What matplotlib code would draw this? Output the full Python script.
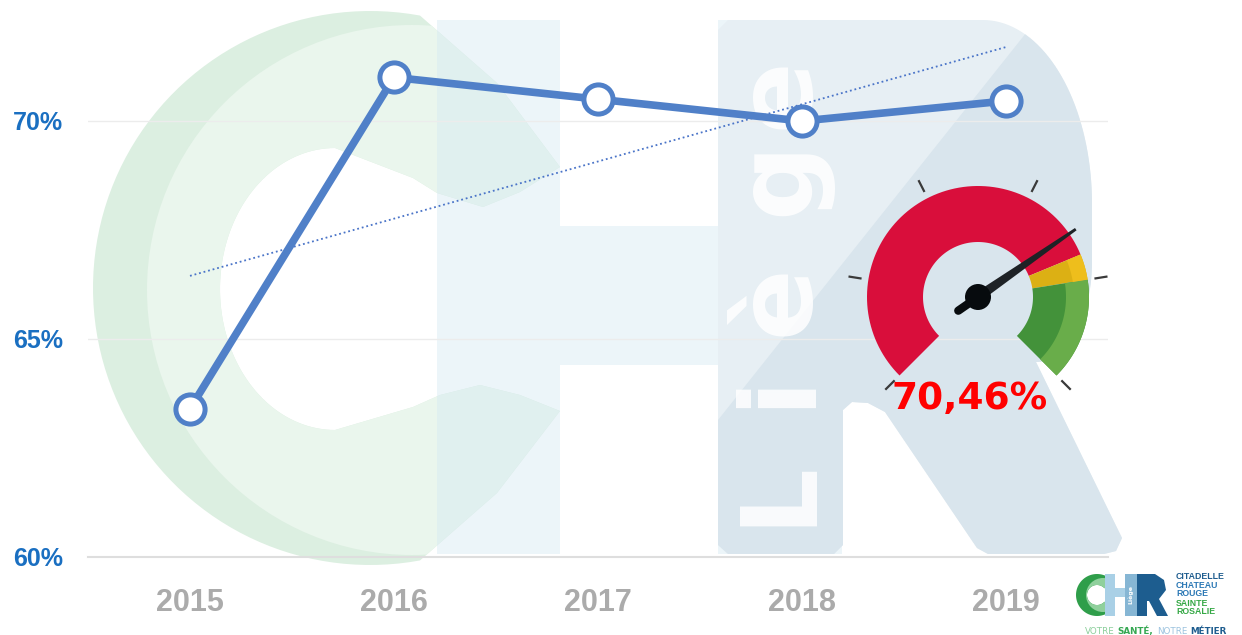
import numpy as np
import matplotlib.pyplot as plt
from matplotlib.patches import Polygon, Circle, Rectangle

# data
years = ['2015', '2016', '2017', '2018', '2019']
rates = [63.4, 71.0, 70.5, 70.0, 70.46]
y_ticks = [60, 65, 70]

gauge_value = 70.46
gauge_bands = [(0, 75, '#d90e3b'), (75, 80, '#dcb014'), (80, 100, '#43923a')]
gauge_ticks = [0, 20, 40, 60, 80, 100]

W, H = 1242, 635
LINE = '#5080c8'


def arc(cx, cy, r, a0, a1, n=90, ry=None):
    # points on a circle/ellipse, math angles, screen coords (y down)
    ry = r if ry is None else ry
    t = np.radians(np.linspace(a0, a1, n))
    return np.column_stack([cx + r * np.cos(t), cy - ry * np.sin(t)])


def sector(cx, cy, r0, r1, a0, a1):
    return np.vstack([arc(cx, cy, r1, a0, a1), arc(cx, cy, r0, a1, a0)])


def px_axes(z):
    a = fig.add_axes([0, 0, 1, 1], zorder=z)
    a.set_xlim(0, W)
    a.set_ylim(H, 0)
    a.axis('off')
    a.patch.set_visible(False)
    return a


fig = plt.figure(figsize=(W / 100, H / 100), dpi=100)
fig.patch.set_facecolor('white')

# ---- watermark logo behind the chart ----
bg = px_axes(0)

hole = arc(335, 289, 115, 270, 90, 80, ry=141)
c_pts = np.vstack([
    arc(370, 288, 277, 79.6, 280.4),
    [(497, 493), (560, 411), (520, 395), (480, 385), (440, 395), (413, 407)],
    hole,
    [(413, 178), (437, 193), (483, 207), (520, 192), (560, 167), (497, 83)],
])
c_patch = Polygon(c_pts, closed=True, fc='#dcefe1', ec='none')
bg.add_patch(c_patch)
light = Circle((412, 290), 265, fc='#eaf6ed', ec='none')
bg.add_patch(light)
light.set_clip_path(c_patch)

h_pts = [(437, 20), (560, 20), (560, 226), (718, 226), (718, 20), (842, 20),
         (842, 554), (718, 554), (718, 365), (560, 365), (560, 554), (437, 554)]
bg.add_patch(Polygon(h_pts, closed=True, fc='#d3e8f2', ec='none', alpha=0.42))

r_pts = np.vstack([
    [(728, 20)],
    arc(983, 204, 109, 90, 0, 40, ry=184),
    arc(1036, 262, 56, 0, -90, 30, ry=100),
    [(1122, 538), (1116, 551), (1104, 554), (988, 554), (977, 548), (885, 412),
     (868, 403), (852, 402), (843, 410), (843, 545), (834, 554),
     (728, 554), (718, 545), (718, 30)],
])
r_patch = Polygon(r_pts, closed=True, fc='#e7eff4', ec='none')
bg.add_patch(r_patch)
dark = Polygon([(718, 420), (1030, 28), (1250, 28), (1250, 635), (718, 635)],
               closed=True, fc='#d9e5ed', ec='none')
bg.add_patch(dark)
dark.set_clip_path(r_patch)

for ch, yc in zip('Liège', [492, 390, 300, 178, 93]):
    bg.text(808, yc, ch, rotation=90, rotation_mode='anchor', ha='center',
            va='baseline', fontsize=76, fontweight='bold', color='white',
            alpha=0.85, family='DejaVu Sans')

# ---- line chart ----
ax = fig.add_axes([88 / W, (H - 557) / H, 1020 / W, (557 - 20) / H], zorder=1)
ax.patch.set_visible(False)
x = np.arange(len(years))
ax.set_xlim(-0.5, len(years) - 0.5)
ax.set_ylim(60, 60 + (557 - 20) / 43.6)

for v in y_ticks[1:]:
    ax.axhline(v, color='#ececec', lw=1, zorder=0)
for s in ['top', 'right', 'left']:
    ax.spines[s].set_visible(False)
ax.spines['bottom'].set_color('#dedede')
ax.spines['bottom'].set_linewidth(1.5)

coef = np.polyfit(x, rates, 1)
ax.plot([x[0], x[-1]], np.polyval(coef, [x[0], x[-1]]), ls=(0, (1, 1.6)),
        lw=1.3, color='#4a74c8', zorder=2)
ax.plot(x, rates, color=LINE, lw=5.5, marker='o', ms=21, mfc='white',
        mec=LINE, mew=3.6, zorder=3, solid_joinstyle='round')

ax.set_xticks(x)
ax.set_xticklabels(years, fontsize=22, fontweight='bold', color='#ababab',
                   family='Liberation Sans')
ax.set_yticks(y_ticks)
ax.set_yticklabels([f'{v}%' for v in y_ticks], fontsize=18, fontweight='bold',
                   color='#1a6fc1', family='Liberation Sans')
ax.tick_params(axis='x', length=0, pad=22)
ax.tick_params(axis='y', length=0, pad=18)

# ---- gauge ----
top = px_axes(2)
cx, cy, r_in, r_out = 978, 297, 55, 111


def ang(v):
    return 225 - v / 100 * 270


for lo, hi, col in gauge_bands:
    top.add_patch(Polygon(sector(cx, cy, r_in, r_out, ang(lo), ang(hi)),
                          closed=True, fc=col, ec='none'))
lo, hi = gauge_bands[-1][:2]
top.add_patch(Polygon(sector(cx, cy, 88, r_out, ang(lo), ang(hi)),
                      closed=True, fc='#69ad4a', ec='none'))
lo, hi = gauge_bands[1][:2]
top.add_patch(Polygon(sector(cx, cy, 96, r_out, ang(lo), ang(hi)),
                      closed=True, fc='#eebe1c', ec='none'))

for v in gauge_ticks:
    p = arc(cx, cy, 119, ang(v), ang(v), 1)[0]
    q = arc(cx, cy, 130, ang(v), ang(v), 1)[0]
    top.plot([p[0], q[0]], [p[1], q[1]], color='#3a3a3a', lw=1.6)

a = np.radians(ang(gauge_value))
u = np.array([np.cos(a), -np.sin(a)])
n = np.array([np.sin(a), np.cos(a)])
c = np.array([cx, cy])
top.add_patch(Polygon([c + n * 5, c + u * 119 + n * 1.4, c + u * 119 - n * 1.4,
                       c - n * 5], closed=True, fc='#1e2226', ec='none'))
tail = c - u * 24
top.plot([cx, tail[0]], [cy, tail[1]], color='#070b0e', lw=6,
         solid_capstyle='round')
top.add_patch(Circle((cx, cy), 13, fc='#070b0e', ec='none'))
top.text(970, 399, f'{gauge_value:.2f}'.replace('.', ',') + '%', ha='center',
         va='center', fontsize=27, fontweight='bold', color='#ff0000',
         family='DejaVu Sans')

# ---- small logo bottom right ----
ring = Polygon(sector(1097, 595, 10, 21, 42, 318), closed=True,
               fc='#2f9e4a', ec='none')
top.add_patch(ring)
lg = Circle((1103, 595), 17, fc='#8fd09c', ec='none')
top.add_patch(lg)
lg.set_clip_path(ring)
top.add_patch(Rectangle((1105, 574), 10, 42, fc='#a9d0e6', ec='none'))
top.add_patch(Rectangle((1115, 588), 10, 9, fc='#a9d0e6', ec='none'))
top.add_patch(Rectangle((1125, 574), 12, 42, fc='#86b6d4', ec='none'))
top.text(1131, 595, 'Liège', rotation=90, ha='center', va='center',
         fontsize=4.5, fontweight='bold', color='white')
top.add_patch(Polygon([(1137, 574), (1155, 574), (1164, 580), (1166, 590),
                       (1159, 599), (1168, 616), (1157, 616), (1149, 601),
                       (1147, 601), (1147, 616), (1137, 616)],
                      closed=True, fc='#1d5d8f', ec='none'))

names = ['CITADELLE', 'CHATEAU', 'ROUGE', 'SAINTE', 'ROSALIE']
name_cols = ['#1f5d8f', '#2b78b5', '#2b78b5', '#35a845', '#35a845']
for txt, yc, col in zip(names, [576.5, 585, 593.5, 603, 611.5], name_cols):
    top.text(1176, yc, txt, ha='left', va='center', fontsize=6.3,
             fontweight='bold', color=col, family='Liberation Sans')

for txt, xs, col, wt in zip(['VOTRE', 'SANTÉ,', 'NOTRE', 'MÉTIER'],
                            [1085, 1117, 1157, 1190],
                            ['#8ccf9c', '#36a853', '#9cc3df', '#1f5d8f'],
                            ['normal', 'bold', 'normal', 'bold']):
    top.text(xs, 631, txt, ha='left', va='center', fontsize=6.3,
             color=col, family='DejaVu Sans', fontweight=wt)

fig.savefig('out.png', dpi=100)
